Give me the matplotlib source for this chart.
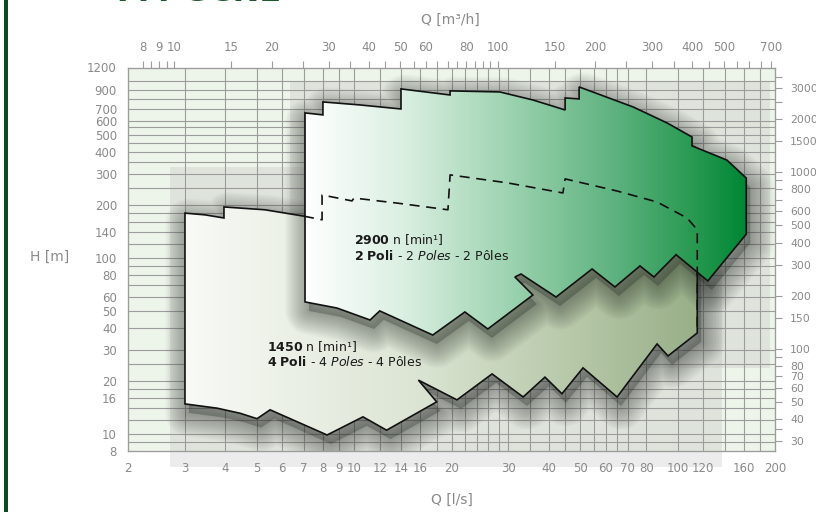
import numpy as np
import matplotlib
matplotlib.use("Agg")
import matplotlib.pyplot as plt
from matplotlib.patches import Polygon, Rectangle
from matplotlib.colors import LinearSegmentedColormap, Normalize
from matplotlib.ticker import NullLocator, NullFormatter
from matplotlib.transforms import ScaledTranslation

# ---------------- data ----------------
q_ls_ticks = [2, 3, 4, 5, 6, 7, 8, 9, 10, 12, 14, 16, 20, 30, 40, 50, 60, 70, 80, 100, 120, 160, 200]
h_m_ticks = [8, 10, 16, 20, 30, 40, 50, 60, 80, 100, 140, 200, 300, 400, 500, 600, 700, 900, 1200]
q_m3h_ticks = [8, 9, 10, 15, 20, 30, 40, 50, 60, 80, 100, 150, 200, 300, 400, 500, 700]
q_m3h_minor = [8.5, 9.5, 25, 35, 45, 55, 65, 70, 75, 85, 90, 95, 250, 350, 450, 550, 600, 650]
h_ft_ticks = [30, 40, 50, 60, 70, 80, 100, 150, 200, 300, 400, 500, 600, 800, 1000, 1500, 2000, 3000]
h_ft_minor = [35, 90, 700, 900, 2500, 3500]

grid_q = [3, 4, 5, 6, 7, 8, 9, 10, 12, 14, 16, 18, 20, 22, 24, 26, 28, 30, 35, 40, 45,
          50, 55, 60, 65, 70, 80, 100, 120, 140, 160, 180]
grid_h = [9, 10, 12, 14, 16, 18, 20, 25, 30, 40, 50, 60, 70, 80, 90, 100, 120, 140, 160, 180,
          200, 250, 300, 350, 400, 450, 500, 550, 600, 700, 800, 900, 1000]

# 4 poles (1450 rpm) envelope: Q [l/s], H [m]
q4 = [3.00, 3.46, 3.96, 3.96, 5.30, 7.00, 7.96, 7.96, 9.85, 9.99, 13.6, 19.5, 19.8, 29.7,
      44.2, 44.9, 65.0, 86.4, 107, 115, 115,
      93.4, 86.4, 65.0, 51.0, 43.9, 38.9, 33.3, 26.7, 20.8, 15.8, 18.0, 12.6, 10.65, 8.25,
      5.50, 5.01, 4.44, 3.77, 3.00]
h4 = [179, 175, 168, 194, 187, 172, 164, 227, 210, 218, 204, 187, 295, 266,
      233, 280, 239, 207, 168, 144, 37.4,
      27.7, 32.4, 16.2, 23.7, 16.9, 21.0, 16.2, 21.9, 15.6, 20.2, 15.2, 10.5, 12.5, 9.86,
      13.7, 12.2, 13.1, 14.0, 14.8]
hidden_start, hidden_end = 5, 20   # part of the 4-pole top hidden behind the 2-pole field

# 2 poles (2900 rpm) envelope
q2 = [7.05, 8.01, 8.01, 10.4, 13.96, 13.96, 19.8, 19.8, 28.2, 35.7, 44.9, 44.9, 49.6, 49.6,
      72.8, 92.7, 110.8, 110.8, 142, 163, 163,
      124, 98.9, 84.5, 76.5, 64.0, 54.4, 42.1, 32.8, 31.4, 35.7, 25.9, 22.0, 17.5, 12.0,
      11.2, 8.85, 7.05]
h2 = [663, 646, 765, 736, 698, 907, 838, 884, 872, 785, 689, 806, 796, 931,
      717, 582, 484, 431, 358, 283, 136,
      73.8, 104, 77.7, 89.8, 68.2, 86.3, 59.8, 80.8, 77.7, 61.4, 39.4, 49.2, 36.4, 49.9,
      44.3, 51.8, 56.1]

# grey background panels (Q range, H range)
panel4_q, panel4_h = (2.70, 137), (6.49, 327)
panel2_q, panel2_h = (6.34, 193), (23.7, 994)

label2_pos = (9.99, 126, 102)
label4_pos = (5.38, 31.5, 25.6)

# ---------------- figure ----------------
W_PX, H_PX = 816, 512
fig = plt.figure(figsize=(W_PX / 100, H_PX / 100), dpi=100)
fig.patch.set_facecolor("white")
ax = fig.add_axes([128 / W_PX, 1 - 451 / H_PX, 647 / W_PX, 383.5 / H_PX])
ax.set_facecolor("#edf4e9")
ax.set_xscale("log")
ax.set_yscale("log")
ax.set_xlim(2, 200)
ax.set_ylim(8, 1200)
ax.set_autoscale_on(False)

GRID = "#9c9c9c"
TXT = "#8a8a8a"

# grey panels
for (qa, qb), (ha, hb) in [(panel4_q, panel4_h), (panel2_q, panel2_h)]:
    ax.add_patch(Rectangle((qa, ha), qb - qa, hb - ha, facecolor="#a4a4a4", alpha=0.2,
                           edgecolor="none", zorder=1, clip_on=False))

for q in grid_q:
    ax.axvline(q, color=GRID, lw=0.8, zorder=2)
for h in grid_h:
    ax.axhline(h, color=GRID, lw=0.8, zorder=2)


def add_shadow(q, h, dx, dy, z, n=16, wmax=34.0, a_stroke=0.029, a_fill=0.28):
    pts = np.column_stack([q, h])
    off = ax.transData + ScaledTranslation(dx / 100, -dy / 100, fig.dpi_scale_trans)
    ax.add_patch(Polygon(pts, closed=True, facecolor="#1e241e", edgecolor="none",
                         alpha=a_fill, transform=off, zorder=z))
    for k in range(1, n + 1):
        ax.add_patch(Polygon(pts, closed=True, facecolor="none", edgecolor="#1e241e",
                             lw=wmax * k / n, alpha=a_stroke, joinstyle="round",
                             transform=off, zorder=z))


def add_field(q, h, stops, z):
    pts = np.column_stack([q, h])
    patch = Polygon(pts, closed=True, facecolor="none", edgecolor="#111111", lw=1.2,
                    joinstyle="miter", zorder=z + 0.5)
    ax.add_patch(patch)
    disp = ax.transData.transform(pts)
    fx = ax.transAxes.inverted().transform(disp)[:, 0]
    cmap = LinearSegmentedColormap.from_list("g", stops)
    g = np.linspace(0, 1, 1000).reshape(1, -1)
    im = ax.imshow(np.vstack([g, g]), extent=(0, 1, 0, 1), transform=ax.transAxes, cmap=cmap,
                   norm=Normalize(fx.min(), fx.max()), aspect="auto",
                   interpolation="bilinear", zorder=z)
    im.set_clip_path(patch)
    return patch


stops4 = [(0.0, "#f8faf6"), (0.45, "#dce5d4"), (0.75, "#b8c9aa"), (1.0, "#98af88")]
stops2 = [(0.0, "#ffffff"), (0.22, "#dbefe2"), (0.44, "#a3d6b5"), (0.71, "#5cb17e"),
          (0.89, "#26984f"), (1.0, "#008736")]

add_shadow(q4, h4, 4, 9, 3)
add_field(q4, h4, stops4, 4)
add_shadow(q2, h2, 4, 9, 6)
add_field(q2, h2, stops2, 7)
ax.plot(q4[hidden_start:hidden_end + 1], h4[hidden_start:hidden_end + 1], color="#111111",
        lw=1.2, linestyle=(0, (6, 4)), zorder=9)

# labels inside the chart
ax.text(label2_pos[0], label2_pos[1], r"$\mathbf{2900}$ n [min¹]", fontsize=9,
        color="#1a1a1a", va="center", ha="left", zorder=10)
ax.text(label2_pos[0], label2_pos[2], r"$\mathbf{2\ Poli}$ - $\mathit{2\ Poles}$ - 2 Pôles",
        fontsize=9, color="#1a1a1a", va="center", ha="left", zorder=10)
ax.text(label4_pos[0], label4_pos[1], r"$\mathbf{1450}$ n [min¹]", fontsize=9,
        color="#1a1a1a", va="center", ha="left", zorder=10)
ax.text(label4_pos[0], label4_pos[2], r"$\mathbf{4\ Poli}$ - $\mathit{4\ Poles}$ - 4 Pôles",
        fontsize=9, color="#1a1a1a", va="center", ha="left", zorder=10)

# main axis ticks (l/s bottom, m left)
ax.set_xticks(q_ls_ticks, [str(v) for v in q_ls_ticks])
ax.set_yticks(h_m_ticks, [str(v) for v in h_m_ticks])
ax.xaxis.set_minor_locator(NullLocator())
ax.yaxis.set_minor_locator(NullLocator())
ax.tick_params(axis="both", which="both", length=0, labelcolor=TXT, labelsize=8.5)
ax.tick_params(axis="x", pad=8)
ax.tick_params(axis="y", pad=8)

# top axis m3/h
ax_t = ax.twiny()
ax_t.set_xscale("log")
ax_t.set_xlim(2 * 3.6, 200 * 3.6)
ax_t.set_xticks(q_m3h_ticks, [str(v) for v in q_m3h_ticks])
ax_t.set_xticks(q_m3h_minor, minor=True)
ax_t.xaxis.set_minor_formatter(NullFormatter())
ax_t.tick_params(axis="x", which="both", direction="out", length=5, width=0.8, color=GRID,
                 labelcolor=TXT, labelsize=8.5, pad=5)

# right axis ft
FT = 3.28084
ax_r = ax.twinx()
ax_r.set_yscale("log")
ax_r.set_ylim(8 * FT, 1200 * FT)
ax_r.set_yticks(h_ft_ticks, [str(v) for v in h_ft_ticks])
ax_r.set_yticks(h_ft_minor, minor=True)
ax_r.yaxis.set_minor_formatter(NullFormatter())
ax_r.tick_params(axis="y", which="both", direction="out", length=5, width=0.8, color=GRID,
                 labelcolor=TXT, labelsize=7.8, pad=6)

for a in (ax, ax_t, ax_r):
    for s in a.spines.values():
        s.set_color(GRID)
        s.set_linewidth(0.8)

# axis titles
fig.text(450 / W_PX, 1 - 20 / H_PX, "Q [m³/h]", ha="center", va="center", fontsize=10, color=TXT)
fig.text(452 / W_PX, 1 - 500 / H_PX, "Q [l/s]", ha="center", va="center", fontsize=10, color=TXT)
fig.text(50 / W_PX, 1 - 257 / H_PX, "H [m]", ha="center", va="center", fontsize=10, color=TXT)

# title (cut at top) and left bar
fig.text(118 / W_PX, 1 - 1 / H_PX, "FM-GCNE", fontsize=23, fontweight="bold",
         fontstyle="italic", color="#1d5a2c", va="baseline", ha="left")
fig.add_artist(Rectangle((4 / W_PX, 0), 4 / W_PX, 1, transform=fig.transFigure,
                         facecolor="#0b4a22", edgecolor="none"))

ax.set_xlim(2, 200)
ax.set_ylim(8, 1200)
fig.savefig("out.png", dpi=100)
